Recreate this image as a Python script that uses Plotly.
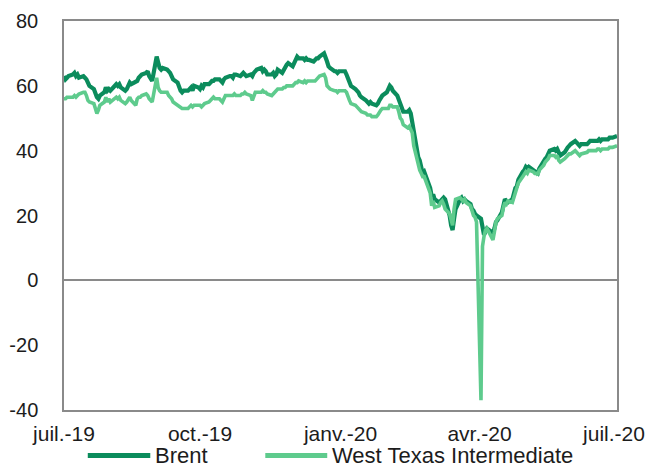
import pandas as pd
import plotly.graph_objects as go

# Daily closing prices (USD/barrel), business days from 16 July 2019 to 20 July 2020
brent = [
    63, 62, 62.5, 63,                      # wk of 15 Jul 2019
    63.5, 64, 63, 63.5, 62.5,              # 22 Jul
    63, 62.5, 62, 61, 60,                  # 29 Jul
    59, 57.5, 56.5, 56, 57,                # 5 Aug
    58, 59.5, 58.5, 59, 58.5,              # 12 Aug
    60, 60.5, 60, 60.5, 59.5,              # 19 Aug
    58.5, 59, 60, 61, 60.5,                # 26 Aug
    61, 61.5, 62.5, 63, 63.5,              # 2 Sep
    64, 64.5, 63, 62, 61.5,                # 9 Sep
    69, 66.5, 65.5, 65, 65.5,              # 16 Sep
    65, 64.5, 64, 63, 62,                  # 23 Sep
    61, 59.5, 58.5, 58, 58.5,              # 30 Sep
    58.5, 59, 59.5, 58.5, 60,              # 7 Oct
    59.5, 59, 60, 59.5, 60.5,              # 14 Oct
    60.5, 61, 61.5, 61.5, 62,              # 21 Oct
    62, 61.5, 61, 62, 62.5,                # 28 Oct
    63, 63, 62.5, 63.5, 63.5,              # 4 Nov
    63, 63.5, 64, 63.5, 63,                # 11 Nov
    63.5, 63, 64, 64.5, 65,                # 18 Nov
    65.5, 64.5, 65, 64.5, 63.5,            # 25 Nov
    63.5, 64, 63, 63.5, 65,                # 2 Dec
    64, 65, 66, 66.5, 67,                  # 9 Dec
    66, 67, 68, 69, 68.5,                  # 16 Dec
    68.5, 68, 68.5, 68, 68,                # 23 Dec
    67.5, 68, 68.5, 68.5, 69,              # 30 Dec
    70, 69, 67.5, 66, 65.5,                # 6 Jan 2020
    64.5, 64.5, 64, 64.5, 64.5,            # 13 Jan
    64.5, 63.5, 62.5, 61, 60,              # 20 Jan
    59, 58.5, 58, 57, 56.5,                # 27 Jan
    55.5, 55, 54.5, 55, 54.5,              # 3 Feb
    54, 54.5, 55.5, 56.5, 57,              # 10 Feb
    58, 59, 60, 59.5, 58.5,                # 17 Feb
    57, 55.5, 54, 53, 52,                  # 24 Feb
    52, 52.5, 51.5, 49, 45,                # 2 Mar
    38, 37, 35.5, 33, 33.5,                # 9 Mar
    30, 28.5, 26, 26.5, 25,                # 16 Mar
    24, 24.5, 25, 25.5, 25,                # 23 Mar
    20, 17, 15.5, 19, 22,                  # 30 Mar
    25, 25.5, 24.5, 25, 24.5,              # 6 Apr
    23.5, 22, 21.5, 20.5, 20,              # 13 Apr
    19, 16, 14, 15, 16,                    # 20 Apr
    15, 14.5, 16, 18, 18.5,                # 27 Apr
    21, 23, 25, 24.5, 24,                  # 4 May
    25, 27, 28.5, 29, 31,                  # 11 May
    33.5, 34, 35, 34.5, 35,                # 18 May
    34, 33.5, 33.5, 33, 34.5,              # 25 May
    37, 37.5, 38, 39, 40,                  # 1 Jun
    40.5, 40, 40.5, 39, 38.5,              # 8 Jun
    39.5, 40.5, 41, 41.5, 42,              # 15 Jun
    43, 42.5, 42, 41.5, 42,                # 22 Jun
    42, 42, 42.5, 43, 43,                  # 29 Jun
    43, 43, 43.5, 43, 43.5,                # 6 Jul
    43.5, 43.5, 44, 44, 44,                # 13 Jul
    44.5,                                  # 20 Jul
]

wti = [
    56, 56, 56.5, 56.5,                    # wk of 15 Jul 2019
    56.5, 57, 56.5, 57, 57.5,              # 22 Jul
    58, 58, 57, 55.5, 55,                  # 29 Jul
    54.5, 53, 51.5, 52.5, 54,              # 5 Aug
    55, 56.5, 55, 56, 55,                  # 12 Aug
    56, 56.5, 56, 56.5, 55.5,              # 19 Aug
    54.5, 55, 56, 56.5, 55.5,              # 26 Aug
    54, 56, 56.5, 56.5, 57,                # 2 Sep
    57.5, 57, 56, 55.5, 55,                # 9 Sep
    62.5, 59.5, 58.5, 58, 58,              # 16 Sep
    58, 57, 56.5, 56, 55,                  # 23 Sep
    54, 53.5, 53, 53, 53,                  # 30 Sep
    53, 53.5, 54, 53.5, 54,                # 7 Oct
    54, 54, 53.5, 54, 54.5,                # 14 Oct
    55, 55.5, 56, 56.5, 56,                # 21 Oct
    56, 55.5, 55, 56, 57,                  # 28 Oct
    57, 57, 57, 57.5, 57,                  # 4 Nov
    57, 57.5, 57.5, 58, 57.5,              # 11 Nov
    57, 55.5, 57, 58, 58,                  # 18 Nov
    58, 58.5, 58, 58, 57.5,                # 25 Nov
    57, 57.5, 58, 58.5, 59,                # 2 Dec
    59, 59.5, 59.5, 60, 60,                # 9 Dec
    60, 60.5, 61, 61, 61.5,                # 16 Dec
    61, 61.5, 61, 61.5, 61.5,              # 23 Dec
    61.5, 61.5, 62, 62.5, 63,              # 30 Dec
    63.5, 62.5, 60, 59.5, 59,              # 6 Jan 2020
    58.5, 58.5, 58, 58.5, 58.5,            # 13 Jan
    58.5, 58, 56.5, 55.5, 54.5,            # 20 Jan
    54, 53.5, 53, 52.5, 52,                # 27 Jan
    51.5, 51, 51, 51, 50.5,                # 3 Feb
    50.5, 51, 52, 52.5, 53,                # 10 Feb
    53, 53, 54, 54, 53.5,                  # 17 Feb
    53.5, 52, 50, 49.5, 48,                # 24 Feb
    47, 47.5, 46.5, 45.5, 41.5,            # 2 Mar
    35, 34, 33, 32, 32,                    # 9 Mar
    28.5, 27, 23, 24.5, 22.5,              # 16 Mar
    23, 24, 24.5, 23.5, 22,                # 23 Mar
    20.5, 18.5, 17, 22, 25,                # 30 Mar
    25.5, 25, 24.5, 25, 24,                # 6 Apr
    23, 21, 20, 19.5, 18,                  # 13 Apr
    -37, 10.5, 13.5, 15.5, 16,             # 20 Apr
    13, 12.5, 15, 18, 19,                  # 27 Apr
    20, 22.5, 24, 23.5, 24.5,              # 4 May
    24, 25.5, 27.5, 28.5, 30,              # 11 May
    32, 33, 33.5, 33, 34,                  # 18 May
    33.5, 33, 33, 32.5, 34,                # 25 May
    35.5, 36.5, 37, 37.5, 38.5,            # 1 Jun
    38.5, 38, 38.5, 37, 36.5,              # 8 Jun
    37.5, 38, 38.5, 39, 39,                # 15 Jun
    40, 39.5, 39, 38.5, 39,                # 22 Jun
    39.5, 39.5, 40, 40, 40,                # 29 Jun
    40, 40.5, 40.5, 40, 40.5,              # 6 Jul
    40.5, 40.5, 41, 41, 41,                # 13 Jul
    41.5,                                  # 20 Jul
]

dates = pd.bdate_range("2019-07-16", periods=len(brent))

tick_dates = ["2019-07-16", "2019-10-15", "2020-01-17", "2020-04-19", "2020-07-18"]
tick_text = ["juil.-19", "oct.-19", "janv.-20", "avr.-20", "juil.-20"]
y_ticks = [-40, -20, 0, 20, 40, 60, 80]
y_tick_text = ["-40", "-20", "0", "20", "40", "60", "80"]

series_names = ["Brent", "West Texas Intermediate"]
series_colors = ["#0b8c5c", "#5ecb8d"]
series_widths = [4.2, 3.6]

FONT = "Liberation Sans, Arial, sans-serif"
TEXT = "#1c1c1c"
FRAME = "#8a8a8a"

fig = go.Figure()
for name, vals, col, w in zip(series_names, [brent, wti], series_colors, series_widths):
    fig.add_trace(go.Scatter(
        x=dates, y=vals, mode="lines", name=name,
        line=dict(color=col, width=w), showlegend=False,
    ))

# Legend drawn below the axis: a coloured stroke followed by the series name
legend_items = [
    (0.043, 0.156, 0.162),
    (0.364, 0.476, 0.482),
]
legend_y = -0.117
for (x0, x1, xt), name, col in zip(legend_items, series_names, series_colors):
    fig.add_shape(type="line", xref="paper", yref="paper",
                  x0=x0, x1=x1, y0=legend_y, y1=legend_y,
                  line=dict(color=col, width=5))
    fig.add_annotation(xref="paper", yref="paper", x=xt, y=legend_y,
                       text=name, showarrow=False, xanchor="left", yanchor="middle",
                       borderpad=0,
                       font=dict(family=FONT, size=22, color=TEXT))

fig.update_layout(
    width=652, height=468,
    margin=dict(l=64, r=35, t=21, b=58),
    paper_bgcolor="white", plot_bgcolor="white",
    font=dict(family=FONT, color=TEXT),
)
fig.update_xaxes(
    type="date", range=[dates[0], dates[-1]], automargin=False,
    tickvals=tick_dates, ticktext=tick_text,
    tickfont=dict(family=FONT, size=21, color=TEXT),
    showgrid=False, zeroline=False, ticks="",
    showline=True, linecolor=FRAME, linewidth=1.5, mirror=True,
    ticklabelstandoff=4,
)
fig.update_yaxes(
    range=[-40, 80], tickvals=y_ticks, ticktext=y_tick_text, automargin=False,
    tickfont=dict(family=FONT, size=20, color=TEXT),
    showgrid=False, zeroline=True, zerolinecolor=FRAME, zerolinewidth=1.5,
    ticks="", showline=True, linecolor=FRAME, linewidth=1.5, mirror=True,
    ticklabelstandoff=20,
)

fig.write_html("out.html")
